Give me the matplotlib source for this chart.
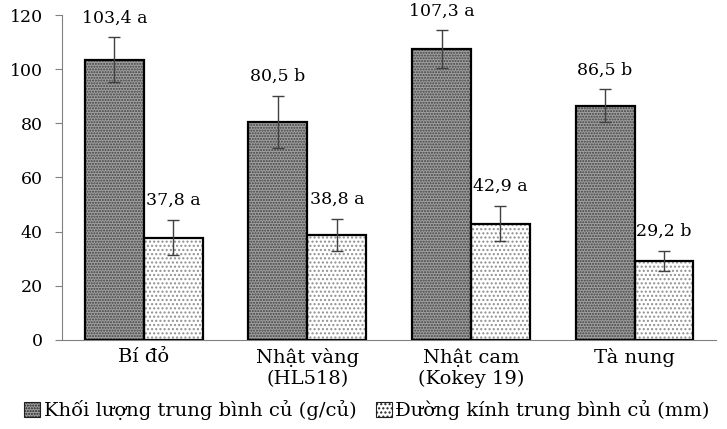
import numpy as np
import matplotlib
matplotlib.use("Agg")
import matplotlib.pyplot as plt
from matplotlib.patches import Patch

# wide serif to match the stretched Times look of the original
plt.rcParams['font.family'] = ['DejaVu Serif']

categories = ['Bí đỏ', 'Nhật vàng\n(HL518)', 'Nhật cam\n(Kokey 19)', 'Tà nung']
weight = [103.4, 80.5, 107.3, 86.5]
weight_err = [8.3, 9.6, 7.0, 6.0]
weight_lbl = ['103,4 a', '80,5 b', '107,3 a', '86,5 b']
diameter = [37.8, 38.8, 42.9, 29.2]
diameter_err = [6.5, 6.0, 6.5, 3.7]
diameter_lbl = ['37,8 a', '38,8 a', '42,9 a', '29,2 b']
legend_labels = ['Khối lượng trung bình củ (g/củ)', 'Đường kính trung bình củ (mm)']

fig = plt.figure(figsize=(7.27, 4.29), dpi=100)
ax = fig.add_axes([0.0853, 0.2075, 0.9, 0.7575])

x = np.arange(len(categories)) + 0.5
w = 0.36
fs = 12.5
fs_big = 14

# fill + hatch first, then black outline
ax.bar(x - w/2, weight, w, color='#a0a0a0', hatch='......', edgecolor='#404040', lw=0)
ax.bar(x + w/2, diameter, w, color='white', hatch='....', edgecolor='#909090', lw=0)
ax.bar(x - w/2, weight, w, fill=False, edgecolor='black', lw=1.6)
ax.bar(x + w/2, diameter, w, fill=False, edgecolor='black', lw=1.6)

ax.errorbar(x - w/2, weight, yerr=weight_err, fmt='none', ecolor='#404040', elinewidth=1, capsize=4)
ax.errorbar(x + w/2, diameter, yerr=diameter_err, fmt='none', ecolor='#404040', elinewidth=1, capsize=4)

for xi, v, e, t in zip(x - w/2, weight, weight_err, weight_lbl):
    ax.annotate(t, (xi, v + e), xytext=(0, 8), textcoords='offset points',
                ha='center', va='bottom', fontsize=fs)
for xi, v, e, t in zip(x + w/2, diameter, diameter_err, diameter_lbl):
    ax.annotate(t, (xi, v + e), xytext=(0, 8), textcoords='offset points',
                ha='center', va='bottom', fontsize=fs)

ax.set_xlim(0, len(categories))
ax.set_ylim(0, 120)
ax.set_yticks(range(0, 121, 20))
ax.set_xticks(x)
ax.set_xticklabels(categories, fontsize=fs_big, linespacing=1.2)
ax.tick_params(axis='x', length=0, pad=6)
ax.tick_params(axis='y', length=5, color='#808080', labelsize=fs, pad=9)
for s in ['top', 'right']:
    ax.spines[s].set_visible(False)
for s in ['left', 'bottom']:
    ax.spines[s].set_color('#808080')

handles = [Patch(facecolor='#a0a0a0', hatch='......', edgecolor='#202020', lw=0.8),
           Patch(facecolor='white', hatch='....', edgecolor='#202020', lw=0.8)]
fig.legend(handles, legend_labels, loc='lower center', bbox_to_anchor=(0.505, -0.02),
           ncol=2, frameon=False, fontsize=fs_big, handlelength=0.8, handleheight=0.8,
           handletextpad=0.2, columnspacing=1.0)

fig.savefig('out.png', dpi=100)
